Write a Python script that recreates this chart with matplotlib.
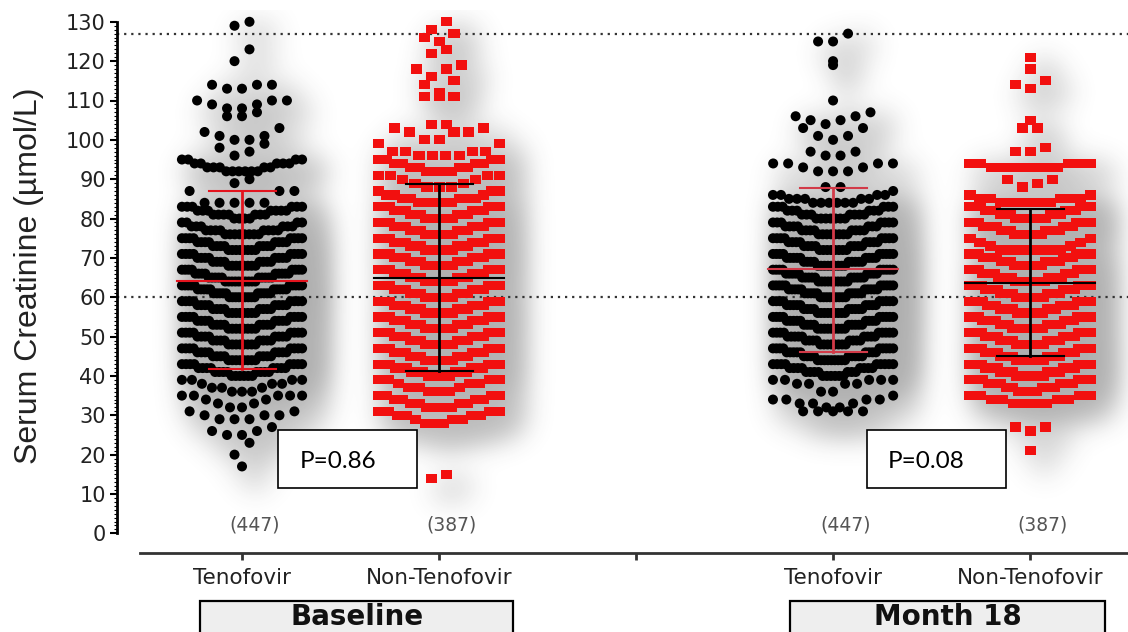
import numpy as np
import matplotlib
matplotlib.use("Agg")
import matplotlib.pyplot as plt
from matplotlib.patches import Rectangle

# number of patients per integer serum creatinine value (umol/L)
# baseline, tenofovir (n=447), values 17..130
bt_start = 17
bt_counts = [1, 0, 0, 1, 0, 0, 1, 0, 2, 2,
             1, 0, 3, 3, 2, 2, 2, 2, 5, 3,
             3, 3, 4, 6, 8, 8, 8, 8, 8, 8,
             8, 8, 8, 8, 8, 8, 8, 8, 8, 8,
             8, 8, 8, 9, 10, 10, 10, 10, 10, 9,
             8, 8, 8, 8, 8, 8, 8, 8, 8, 8,
             8, 6, 4, 4, 7, 7, 6, 5, 0, 0,
             3, 0, 1, 1, 0, 6, 5, 5, 4, 1,
             1, 1, 1, 2, 2, 1, 1, 0, 0, 2,
             1, 2, 2, 3, 0, 0, 2, 3, 0, 0,
             0, 0, 0, 1, 0, 0, 1, 0, 0, 0,
             0, 0, 1, 1]
# baseline, non-tenofovir (n=387), values 14..130
bn_start = 14
bn_counts = [1, 1, 0, 0, 0, 0, 0, 0, 0, 0,
             0, 0, 0, 0, 3, 3, 4, 4, 4, 4,
             4, 4, 3, 3, 3, 4, 5, 6, 6, 6,
             6, 6, 6, 6, 6, 6, 6, 6, 6, 6,
             6, 6, 6, 6, 6, 6, 6, 6, 6, 6,
             6, 6, 6, 6, 6, 6, 6, 6, 6, 6,
             6, 6, 6, 6, 6, 6, 6, 6, 6, 6,
             5, 5, 3, 3, 3, 2, 2, 4, 4, 4,
             4, 4, 4, 4, 0, 2, 2, 0, 3, 2,
             2, 0, 0, 0, 0, 0, 0, 3, 1, 0,
             1, 1, 1, 0, 2, 1, 0, 0, 1, 1,
             0, 1, 1, 1, 1, 0, 1]
# month 18, tenofovir (n=447), values 31..127
mt_start = 31
mt_counts = [5, 2, 3, 4, 1, 2, 0, 4, 5, 6,
             7, 8, 9, 9, 9, 9, 9, 8, 8, 9,
             9, 9, 9, 9, 9, 9, 9, 9, 9, 9,
             10, 10, 10, 10, 10, 9, 9, 9, 9, 9,
             9, 8, 8, 8, 8, 8, 8, 7, 7, 7,
             7, 6, 6, 6, 5, 4, 1, 2, 0, 0,
             0, 3, 2, 4, 0, 2, 2, 0, 0, 1,
             2, 0, 2, 1, 2, 2, 1, 0, 0, 1,
             0, 0, 0, 0, 0, 0, 0, 0, 1, 1,
             0, 0, 0, 0, 2, 0, 1]
# month 18, non-tenofovir (n=387), values 21..121
mn_start = 21
mn_counts = [1, 0, 0, 0, 0, 1, 2, 0, 0, 0,
             0, 0, 4, 4, 4, 4, 5, 6, 6, 8,
             8, 8, 8, 8, 8, 8, 8, 8, 8, 8,
             8, 8, 7, 7, 7, 7, 7, 7, 8, 8,
             8, 8, 8, 8, 8, 7, 7, 7, 7, 7,
             7, 7, 2, 2, 2, 7, 7, 7, 7, 7,
             6, 6, 6, 6, 5, 2, 0, 1, 1, 2,
             0, 0, 7, 5, 0, 0, 2, 1, 0, 0,
             0, 0, 2, 0, 1, 0, 0, 0, 0, 0,
             0, 0, 1, 1, 1, 0, 0, 1, 0, 0,
             1]

positions = [0, 1, 3, 4]
tick_pos = [0, 1, 2, 3, 4]
tick_labels = ["Tenofovir", "Non-Tenofovir", "", "Tenofovir", "Non-Tenofovir"]
n_labels = ["(447)", "(387)", "(447)", "(387)"]
means = [64.1, 64.9, 67.1, 63.7]
sd_low = [41.8, 41.3, 46.2, 45.1]
sd_high = [87.0, 88.7, 87.8, 82.3]
ref_lines = [60, 127]
p_texts = ["P=0.86", "P=0.08"]
periods = ["Baseline", "Month 18"]

dot_colors = ["black", "#f2100f", "black", "#f2100f"]
bar_colors = ["#e3141e", "black", "#d23a48", "black"]


def swarm(values, center, binh=4.0, gap=0.076, half=0.305):
    # Prism-like layout: rows of binh units, lowest values in the middle
    vals = np.sort(values).astype(float)
    bins = np.floor(vals / binh)
    xs = np.zeros_like(vals)
    for b in np.unique(bins):
        idx = np.where(bins == b)[0]
        n = len(idx)
        step = gap if n == 1 else min(gap, 2 * half / (n - 1))
        slots = (np.arange(n) - (n - 1) / 2.0) * step
        order = np.argsort(np.abs(slots), kind="stable")
        xs[idx] = center + slots[order]
    return xs, vals


data = [(bt_start, bt_counts), (bn_start, bn_counts),
        (mt_start, mt_counts), (mn_start, mn_counts)]

fig = plt.figure(figsize=(11.28, 6.32), dpi=100)
ax = fig.add_axes([117 / 1128, 79 / 632, 1011 / 1128, 543 / 632])
x0, x1 = -0.6345, 4.497
y0, y1 = -5.0, 133
ax.set_xlim(x0, x1)
ax.set_ylim(y0, y1)

swarms = []
for (start, counts), pos in zip(data, positions):
    vals = np.repeat(np.arange(start, start + len(counts)), counts)
    swarms.append(swarm(vals, pos))

# soft drop shadow behind the dots, offset to the lower right
W, H = 1011, 543
img = np.zeros((H, W))
for xs, ys in swarms:
    c = ((xs - x0) / (x1 - x0) * W + 14).astype(int)
    r = ((ys - y0) / (y1 - y0) * H - 12).astype(int)
    ok = (c >= 0) & (c < W) & (r >= 0) & (r < H)
    np.add.at(img, (r[ok], c[ok]), 1.0)
kern = np.exp(-0.5 * (np.arange(-48, 49) / 15.0) ** 2)
kern /= kern.sum()
img = np.apply_along_axis(lambda m: np.convolve(m, kern, mode="same"), 0, img)
img = np.apply_along_axis(lambda m: np.convolve(m, kern, mode="same"), 1, img)
rgba = np.zeros((H, W, 4))
rgba[..., :3] = 0.2
rgba[..., 3] = 0.4 * (1 - np.exp(-img / 0.004))
ax.imshow(rgba, extent=(x0, x1, y0, y1), origin="lower", aspect="auto",
          zorder=0.5, interpolation="bilinear")

for y in ref_lines:
    ax.axhline(y, color="#333333", lw=1.6, ls=(0, (1, 2.2)), zorder=1)

rect = [(-1.2, -1), (1.2, -1), (1.2, 1), (-1.2, 1), (-1.2, -1)]
for i, (xs, ys) in enumerate(swarms):
    if i % 2 == 0:
        ax.scatter(xs, ys, s=52, marker="o", color=dot_colors[i],
                   edgecolors="none", zorder=3, clip_on=False)
    else:
        ax.scatter(xs, ys, s=63, marker=rect, color=dot_colors[i],
                   edgecolors="none", zorder=3, clip_on=False)

# mean and SD bars
for pos, m, lo, hi, col in zip(positions, means, sd_low, sd_high, bar_colors):
    ax.plot([pos, pos], [lo, hi], color=col, lw=2.0, zorder=4)
    ax.plot([pos - 0.33, pos + 0.33], [m, m], color=col, lw=1.5, zorder=4)
    ax.plot([pos - 0.17, pos + 0.17], [lo, lo], color=col, lw=1.5, zorder=4)
    ax.plot([pos - 0.17, pos + 0.17], [hi, hi], color=col, lw=1.5, zorder=4)

for pos, lab in zip(positions, n_labels):
    ax.text(pos + 0.065, 2.1, lab, ha="center", va="center", fontsize=13.5,
            color="#555555", zorder=5)

# p-value boxes
for bx, tx, txt in zip([0.183, 3.173], [0.294, 3.279], p_texts):
    ax.add_patch(Rectangle((bx, 11.5), 0.705, 14.75, facecolor="white",
                           edgecolor="black", lw=1.2, zorder=6))
    ax.text(tx, 16.6, txt, ha="left", va="baseline", fontsize=17.5,
            family="Lato", color="black", zorder=7)

# period boxes under the x axis
for bx, bw, txt in zip([-0.213, 2.782], [1.589, 1.599], periods):
    ax.add_patch(Rectangle((bx, -32), bw, 32 - 17.2, facecolor="#eeeeee",
                           edgecolor="black", lw=1.6, zorder=6, clip_on=False))
    ax.text(bx + bw / 2, -23.3, txt, ha="center", va="baseline", fontsize=20,
            fontweight="bold", color="#111111", zorder=7, clip_on=False)

for s in ["top", "right"]:
    ax.spines[s].set_visible(False)
ax.spines["left"].set_linewidth(2)
ax.spines["left"].set_bounds(0, 130)
ax.spines["bottom"].set_linewidth(2)
ax.spines["bottom"].set_color("#333333")
ax.spines["bottom"].set_bounds(-0.518, x1)

ax.set_yticks(range(0, 131, 10))
ax.set_yticks(range(0, 131), minor=True)
ax.tick_params(axis="y", which="major", length=5, width=1.5, labelsize=15,
               pad=3, labelcolor="#222222")
ax.tick_params(axis="y", which="minor", length=2.5, width=0.8)
ax.set_xticks(tick_pos)
ax.set_xticklabels(tick_labels)
ax.tick_params(axis="x", length=5, width=2, color="#333333", labelsize=15.5,
               pad=6, labelcolor="#222222")
ax.set_xlim(x0, x1)
ax.set_ylim(y0, y1)
ax.patch.set_alpha(0)

fig.text(29 / 1128, 1 - 276 / 632, "Serum Creatinine (µmol/L)", rotation=90,
         ha="center", va="center", fontsize=23, family="Liberation Sans",
         color="#222222")

fig.savefig("out.png", dpi=100)
